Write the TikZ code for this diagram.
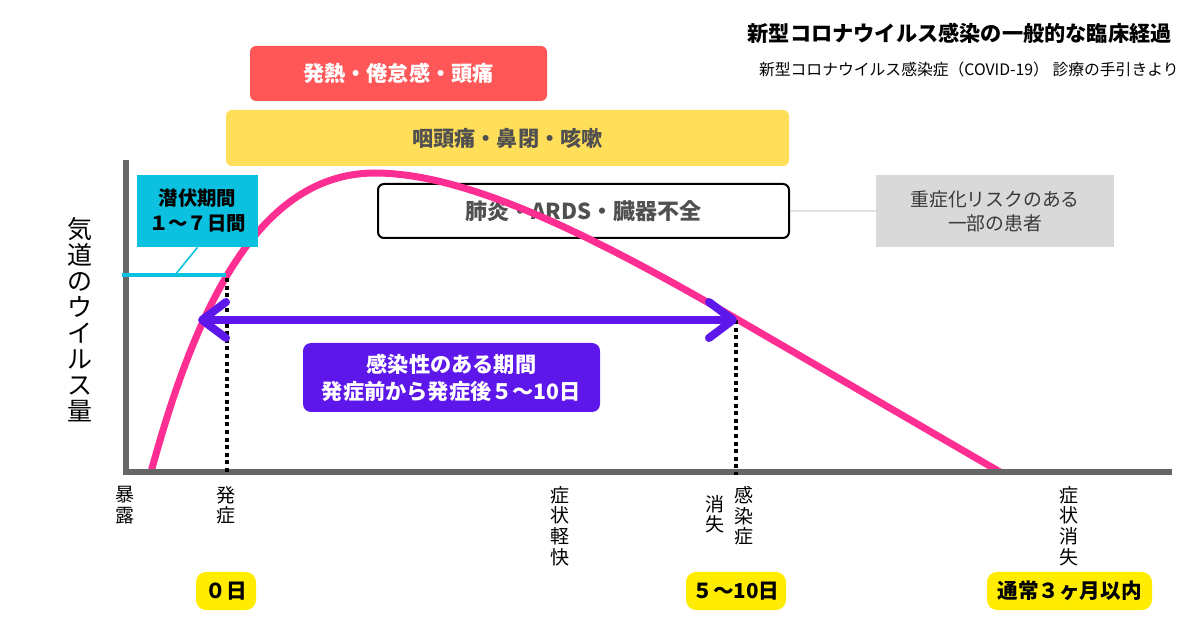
\documentclass[tikz,border=0pt]{standalone}
\usepackage{fontspec}
\setmainfont{Noto Sans CJK JP}
\usetikzlibrary{arrows.meta}

\definecolor{viruspink}{HTML}{FF2E93}
\definecolor{periodpurple}{HTML}{5E17EB}
\definecolor{incubcyan}{HTML}{0CC0DF}
\definecolor{feverred}{HTML}{FF5757}
\definecolor{throatyellow}{HTML}{FFDE59}
\definecolor{dayyellow}{HTML}{FFEC00}
\definecolor{riskgray}{HTML}{D9D9D9}
\definecolor{axisgray}{HTML}{666666}
\definecolor{textgray}{HTML}{505050}

\begin{document}
\begin{tikzpicture}[x=0.5pt, y=-0.5pt,
    sympbox/.style={rounded corners=3pt, inner sep=0pt, align=center,
      font=\bfseries\fontsize{10.6}{12}\selectfont},
    daybox/.style={fill=dayyellow, rounded corners=5pt, inner sep=0pt,
      minimum height=19pt, font=\bfseries\fontsize{10.3}{12}\selectfont},
    tick/.style={align=center, inner sep=0pt, anchor=north,
      font=\fontsize{9.5}{10.3}\selectfont}]
  \useasboundingbox (0,0) rectangle (1200,630);
  % title
  \node[anchor=east, inner sep=0pt, font=\bfseries\fontsize{10.6}{12}\selectfont] (title) at (1172,33) {新型コロナウイルス感染の一般的な臨床経過};
  \node[anchor=east, inner sep=0pt, font=\fontsize{7.9}{9}\selectfont] (source) at (1179,70) {新型コロナウイルス感染症（COVID-19） 診療の手引きより};
  % symptom boxes
  \node[sympbox, fill=feverred, text=white, minimum width=148.5pt, minimum height=27.5pt] (fever) at (398.5,73.5) {発熱・倦怠感・頭痛};
  \node[sympbox, fill=throatyellow, text=textgray, minimum width=281.5pt, minimum height=28pt] (throat) at (507.5,138) {咽頭痛・鼻閉・咳嗽};
  \node[sympbox, draw=black, line width=1pt, fill=white, text=textgray, minimum width=205.5pt, minimum height=27pt, font=\bfseries\fontsize{11}{12}\selectfont] (organ) at (583.5,211) {肺炎・ARDS・臓器不全};
  \node[fill=riskgray, inner sep=0pt, align=center, minimum width=119pt, minimum height=36pt, text=black!78, font=\fontsize{9.4}{12}\selectfont] (risk) at (995,211) {重症化リスクのある\\一部の患者};
  \draw[black!12, line width=1pt] (organ.east) -- (risk.west);
  % curve
  \draw[viruspink, line width=3.5pt] (151,472) .. controls (190,330) and (250,173) .. (375,173)
    .. controls (470,173) and (600,240) .. (735,318) -- (1000,472);
  % axes
  \draw[axisgray, line width=3pt] (126,160) |- (1172,472);
  \node[align=center, inner sep=0pt, font=\fontsize{12.5}{13}\selectfont] (ylabel) at (80,320) {気\\道\\の\\ウ\\イ\\ル\\ス\\量};
  % dotted lines
  \coordinate (onset) at (227,278);
  \coordinate (onset-ax) at (227,475);
  \coordinate (clear) at (736,320);
  \coordinate (clear-ax) at (736,475);
  \draw[line width=1.8pt, dash pattern=on 2pt off 1.8pt] (onset) -- (onset-ax);
  \draw[line width=1.8pt, dash pattern=on 2pt off 1.8pt] (clear) -- (clear-ax);
  % incubation
  \draw[incubcyan, line width=1.7pt] (122,275) -- (226,275);
  \coordinate (incline) at (175,275);
  \node[fill=incubcyan, inner sep=0pt, align=center, minimum width=60.5pt, minimum height=36pt, font=\bfseries\fontsize{9.7}{12.5}\selectfont] (incub) at (197.5,211) {潜伏期間\\１～７日間};
  \draw[incubcyan, line width=0.8pt] (incline) -- (incub.south);
  % infectious period
  \coordinate (left-hit) at (198,320);
  \coordinate (right-hit) at (737,320);
  \draw[periodpurple, line width=4pt, line cap=round, line join=round,
    {Straight Barb[length=12pt, width=18pt, round]}-{Straight Barb[length=12pt, width=18pt, round]}] (left-hit) -- (right-hit);
  \node[sympbox, fill=periodpurple, text=white, rounded corners=4pt, minimum width=148.5pt, minimum height=34.5pt, font=\bfseries\fontsize{10.6}{13.5}\selectfont] (period) at (451.5,377.5) {感染性のある期間\\発症前から発症後５～10日};
  % x labels
  \node[tick] (expo) at (125,486) {暴\\露};
  \node[tick] (onsetlbl) at (226,486) {発\\症};
  \node[tick] (relief) at (560,486) {症\\状\\軽\\快};
  \node[tick] (clearlbl) at (715,495) {消\\失};
  \node[tick] (infect) at (744,486) {感\\染\\症};
  \node[tick] (gone) at (1069,486) {症\\状\\消\\失};
  % day boxes
  \node[daybox, minimum width=30pt] (day0) at (226,591) {０日};
  \node[daybox, minimum width=50pt] (day5) at (736,591) {５～10日};
  \node[daybox, minimum width=82.5pt] (month3) at (1069.5,591) {通常３ヶ月以内};
\end{tikzpicture}
\end{document}
